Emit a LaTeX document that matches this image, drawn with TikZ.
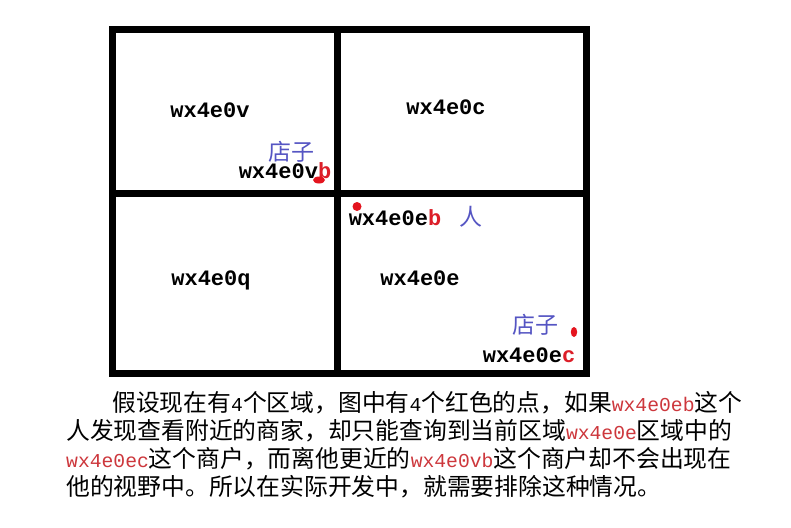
\documentclass[tikz,border=0pt]{standalone}
\usepackage{fontspec}
\newfontfamily\cjk{Noto Sans CJK SC}
\newfontfamily\lat{Liberation Mono}
\definecolor{dotred}{RGB}{228,20,30}
\definecolor{lblred}{RGB}{220,30,40}
\definecolor{txtred}{RGB}{205,55,60}
\definecolor{shopblue}{RGB}{85,85,195}
\newcommand{\bodyc}[1]{{\cjk\fontsize{23.8}{28}\selectfont #1}}
\newcommand{\bodyl}[1]{{\lat\fontsize{19.7}{28}\selectfont #1}}
\newcommand{\bodyr}[1]{{\lat\fontsize{19.7}{28}\selectfont\color{txtred}#1}}
\tikzset{
  frame/.style={line width=7pt, line cap=rect, line join=miter},
  lab/.style={inner sep=0pt, anchor=base, font=\lat\bfseries\fontsize{22}{22}\selectfont},
  shop/.style={inner sep=0pt, anchor=base, text depth=0pt, text=shopblue, font=\cjk\fontsize{23}{23}\selectfont},
  body/.style={inner sep=0pt, anchor=base west},
  reddot/.style={fill=dotred}
}
\begin{document}
\begin{tikzpicture}[x=1pt,y=-1pt]
\path[use as bounding box, fill=white] (0,0) rectangle (791,527);
% frame
\coordinate (tl) at (112,30);
\coordinate (br) at (586.5,373.5);
\coordinate (vt) at (337.5,30);
\coordinate (vb) at (337.5,373.5);
\coordinate (hl) at (112,193.5);
\coordinate (hr) at (586.5,193.5);
\draw[frame] (tl) rectangle (br);
\draw[frame] (vt) -- (vb);
\draw[frame] (hl) -- (hr);
% region labels
\node[lab] (v) at (210,117) {wx4e0v};
\node[lab] (c) at (446,114) {wx4e0c};
\node[lab] (q) at (211,285) {wx4e0q};
\node[lab] (e) at (420,285) {wx4e0e};
% points
\node[shop] (shop1) at (291,160) {店子};
\node[lab] (vblab) at (285,178) {wx4e0v\textcolor{lblred}{b}};
\node[lab] (eb) at (395,225) {wx4e0e\textcolor{lblred}{b}};
\node[shop] (ren) at (471,225) {人};
\node[shop] (shop2) at (535,333) {店子};
\node[lab] (ec) at (529,362) {wx4e0e\textcolor{lblred}{c}};
% red dots
\fill[reddot] (319,180) ellipse [x radius=6, y radius=3.5];
\fill[reddot] (357,206.5) circle [radius=4.5];
\fill[reddot] (574,332) ellipse [x radius=3.2, y radius=5];
% description
\node[body] (l1) at (112,411) {\bodyc{假设现在有}\bodyl{4}\bodyc{个区域，图中有}\bodyl{4}\bodyc{个红色的点，如果}\bodyr{wx4e0eb}\bodyc{这个}};
\node[body] (l2) at (66,439) {\bodyc{人发现查看附近的商家，却只能查询到当前区域}\bodyr{wx4e0e}\bodyc{区域中的}};
\node[body] (l3) at (66,467) {\bodyr{wx4e0ec}\bodyc{这个商户，而离他更近的}\bodyr{wx4e0vb}\bodyc{这个商户却不会出现在}};
\node[body] (l4) at (66,495) {\bodyc{他的视野中。所以在实际开发中，就需要排除这种情况。}};
\end{tikzpicture}
\end{document}
